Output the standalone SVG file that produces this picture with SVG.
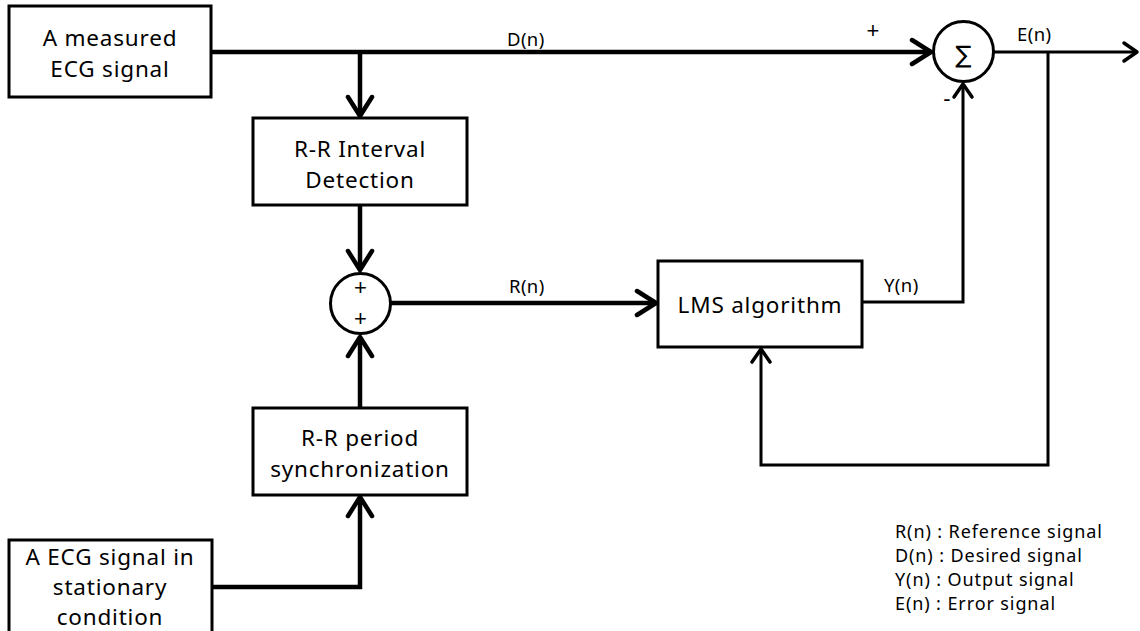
<svg xmlns="http://www.w3.org/2000/svg" width="1140" height="631" viewBox="0 0 1140 631">
<style>
.box{fill:#fff;stroke:#000;stroke-width:3}
.t{font-family:"Noto Sans","Open Sans",sans-serif;font-size:22.5px;letter-spacing:0.8px;fill:#000;text-anchor:middle}
.l{font-family:"Noto Sans","Open Sans",sans-serif;font-size:18.5px;letter-spacing:0.4px;fill:#000}
.p{font-family:"Liberation Sans",sans-serif;font-size:22px;fill:#000;text-anchor:middle}
.s{font-family:"Noto Sans","Open Sans",sans-serif;font-size:18px;letter-spacing:0.9px;fill:#000}
.thick{fill:none;stroke:#000;stroke-width:4.5}
.thin{fill:none;stroke:#000;stroke-width:3}
</style>
<defs>
<marker id="a" markerUnits="userSpaceOnUse" markerWidth="30" markerHeight="30" refX="0" refY="0" viewBox="-24 -15 28 30" orient="auto">
<path d="M -19 -12 L 0 0 L -19 12" fill="none" stroke="#000" stroke-width="4.5" stroke-linecap="round" stroke-linejoin="round"/>
</marker>
<marker id="b" markerUnits="userSpaceOnUse" markerWidth="30" markerHeight="30" refX="0" refY="0" viewBox="-24 -15 28 30" orient="auto">
<path d="M -13 -9 L 0 0 L -13 9" fill="none" stroke="#000" stroke-width="3.5" stroke-linecap="round" stroke-linejoin="round"/>
</marker>
</defs>
<g id="connectors">
<path class="thick" d="M 212 52 L 931 52" marker-end="url(#a)"/>
<path class="thick" d="M 360 52 L 360 116" marker-end="url(#a)"/>
<path class="thick" d="M 360 205 L 360 270" marker-end="url(#a)"/>
<path class="thick" d="M 212 587 L 360 587 L 360 497" marker-end="url(#a)"/>
<path class="thick" d="M 360 408 L 360 337" marker-end="url(#a)"/>
<path class="thick" d="M 391 303 L 656 303" marker-end="url(#a)"/>
<path class="thin" d="M 863 302 L 963 302 L 963 84" marker-end="url(#b)"/>
<path class="thin" d="M 994 52 L 1137 52" marker-end="url(#b)"/>
<path class="thin" d="M 1048 52 L 1048 465 L 761 465 L 761 349" marker-end="url(#b)"/>
<text class="l" x="507" y="46">D(n)</text>
<text class="p" x="873" y="38">+</text>
<text class="l" x="1017" y="41">E(n)</text>
<text class="p" x="947" y="106">-</text>
<text class="l" x="509" y="293">R(n)</text>
<text class="l" x="884" y="292">Y(n)</text>
</g>
<g id="measured">
<rect class="box" x="9" y="6" width="202" height="91"/>
<text class="t" x="110" y="46">A measured</text>
<text class="t" x="110" y="77">ECG signal</text>
</g>
<g id="interval">
<rect class="box" x="253" y="118" width="214" height="87"/>
<text class="t" x="360" y="157">R-R Interval</text>
<text class="t" x="360" y="188">Detection</text>
</g>
<g id="adder">
<circle cx="360.5" cy="303.5" r="30" fill="#fff" stroke="#000" stroke-width="3"/>
<text class="p" x="360.5" y="295">+</text>
<text class="p" x="360.5" y="326">+</text>
</g>
<g id="period">
<rect class="box" x="253" y="408" width="214" height="87"/>
<text class="t" x="360" y="446">R-R period</text>
<text class="t" x="360" y="477">synchronization</text>
</g>
<g id="stationary">
<rect class="box" x="9" y="540" width="203" height="100"/>
<text class="t" x="110" y="565">A ECG signal in</text>
<text class="t" x="110" y="595">stationary</text>
<text class="t" x="110" y="625">condition</text>
</g>
<g id="lms">
<rect class="box" x="658" y="261" width="204" height="86"/>
<text class="t" x="760" y="313">LMS algorithm</text>
</g>
<g id="sigma">
<circle cx="963.5" cy="51.5" r="30" fill="#fff" stroke="#000" stroke-width="3"/>
<text x="963.5" y="63" text-anchor="middle" font-family="DejaVu Sans, sans-serif" font-size="24">∑</text>
</g>
<g id="legend">
<text class="s" x="895" y="538">R(n) : Reference signal</text>
<text class="s" x="895" y="562">D(n) : Desired signal</text>
<text class="s" x="895" y="586">Y(n) : Output signal</text>
<text class="s" x="895" y="610">E(n) : Error signal</text>
</g>
</svg>
